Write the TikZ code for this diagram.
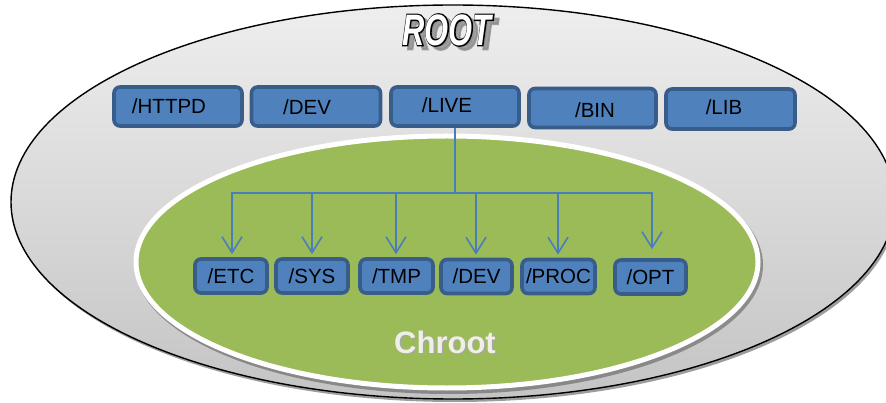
\documentclass[tikz,border=0pt]{standalone}
\usepackage{fontspec}
\setmainfont{Liberation Sans}
\newfontfamily\rootfont{Liberation Sans Bold Italic}
\newfontfamily\rootoutlinefont{Liberation Sans Bold Italic}[FakeBold=6]
\usetikzlibrary{arrows.meta}
\definecolor{boxfill}{RGB}{79,129,189}
\definecolor{boxline}{RGB}{56,93,138}
\definecolor{arrowc}{RGB}{74,126,187}
\definecolor{chgreen}{RGB}{155,187,89}
\definecolor{chtext}{RGB}{240,238,232}
\begin{document}
\begin{tikzpicture}[x=1pt,y=-1pt,
  dirbox/.style={draw=boxline, line width=3.6pt, fill=boxfill, rounded corners=6pt, inner sep=0pt},
  dirtext/.style={font=\fontsize{20.5}{22}\selectfont, text=black, inner sep=0pt},
  tree/.style={draw=arrowc, line width=1.6pt},
  treearrow/.style={tree, -{Straight Barb[length=16pt,width=20pt,line width=1.6pt]}, shorten >=3pt},
  roottext/.style={font=\fontsize{44}{44}\rootfont, xscale=0.7, inner sep=0pt},
  rootoutline/.style={font=\fontsize{44}{44}\rootoutlinefont, xscale=0.7, inner sep=0pt}
]
\useasboundingbox (0,0) rectangle (886,403);
\clip (0,0) rectangle (886,403);
% outer ellipse (ROOT)
\fill[black!70, opacity=0.55] (455,205) ellipse [x radius=442, y radius=197];
\shade[top color={rgb,255:red,238;green,238;blue,238}, bottom color={rgb,255:red,196;green,196;blue,196}, draw=black, line width=1.4pt]
  (453,202) ellipse [x radius=442, y radius=197];
% inner ellipse (Chroot)
\fill[black!70, opacity=0.5] (449,265) ellipse [x radius=314, y radius=129];
\filldraw[fill=chgreen, draw=white, line width=5pt] (447,262) ellipse [x radius=311, y radius=126];
% top boxes
\node[dirbox, minimum width=128pt, minimum height=39pt] (httpd) at (178,106.5) {};
\node[dirbox, minimum width=129pt, minimum height=39pt] (dev1) at (316,106.5) {};
\node[dirbox, minimum width=128pt, minimum height=39pt] (live) at (455,106.5) {};
\node[dirbox, minimum width=127pt, minimum height=39pt] (bin) at (592.5,108) {};
\node[dirbox, minimum width=129pt, minimum height=40pt] (lib) at (730.5,109) {};
\node[dirtext] (thttpd) at (169,106) {/HTTPD};
\node[dirtext] (tdev1) at (307,107) {/DEV};
\node[dirtext] (tlive) at (447,105) {/LIVE};
\node[dirtext] (tbin) at (595,110) {/BIN};
\node[dirtext] (tlib) at (724,107) {/LIB};
% bottom boxes
\node[dirbox, dirtext, minimum width=72pt, minimum height=34pt] (etc) at (231,276) {/ETC};
\node[dirbox, dirtext, minimum width=72pt, minimum height=34pt] (sys) at (312,276) {/SYS};
\node[dirbox, dirtext, minimum width=73pt, minimum height=34pt] (tmp) at (396.5,276) {/TMP};
\node[dirbox, dirtext, minimum width=71pt, minimum height=34pt] (dev2) at (476.5,276.5) {/DEV};
\node[dirbox, dirtext, minimum width=73pt, minimum height=34pt] (proc) at (558.5,276.5) {/PROC};
\node[dirbox, dirtext, minimum width=71pt, minimum height=34pt] (opt) at (650.5,277) {/OPT};
% connectors
\coordinate (bus) at (455,193);
\draw[tree] (live.south) -- (bus);
\draw[treearrow] (bus) -| ([xshift=1pt]etc.north);
\draw[treearrow] (bus) -| (sys.north);
\draw[treearrow] (bus) -| ([xshift=-0.5pt]tmp.north);
\draw[treearrow] (bus) -| ([xshift=-0.5pt]dev2.north);
\draw[treearrow] (bus) -| ([xshift=-0.5pt]proc.north);
\draw[treearrow, shorten >=9pt] (bus) -| ([xshift=1.5pt]opt.north);
% ROOT title
\node[rootoutline, text=black!45, opacity=0.8] (rootshadow) at (452,34) {ROOT};
\node[rootoutline, text=black] (rootoutl) at (447,30) {ROOT};
\node[roottext, text=white] (root) at (447,30) {ROOT};
% Chroot label
\node[font=\fontsize{31}{31}\bfseries\selectfont, text=black!35, inner sep=0pt] (chrootshadow) at (446.5,343.5) {Chroot};
\node[font=\fontsize{31}{31}\bfseries\selectfont, text=chtext, inner sep=0pt] (chroot) at (445,342) {Chroot};
\end{tikzpicture}
\end{document}
